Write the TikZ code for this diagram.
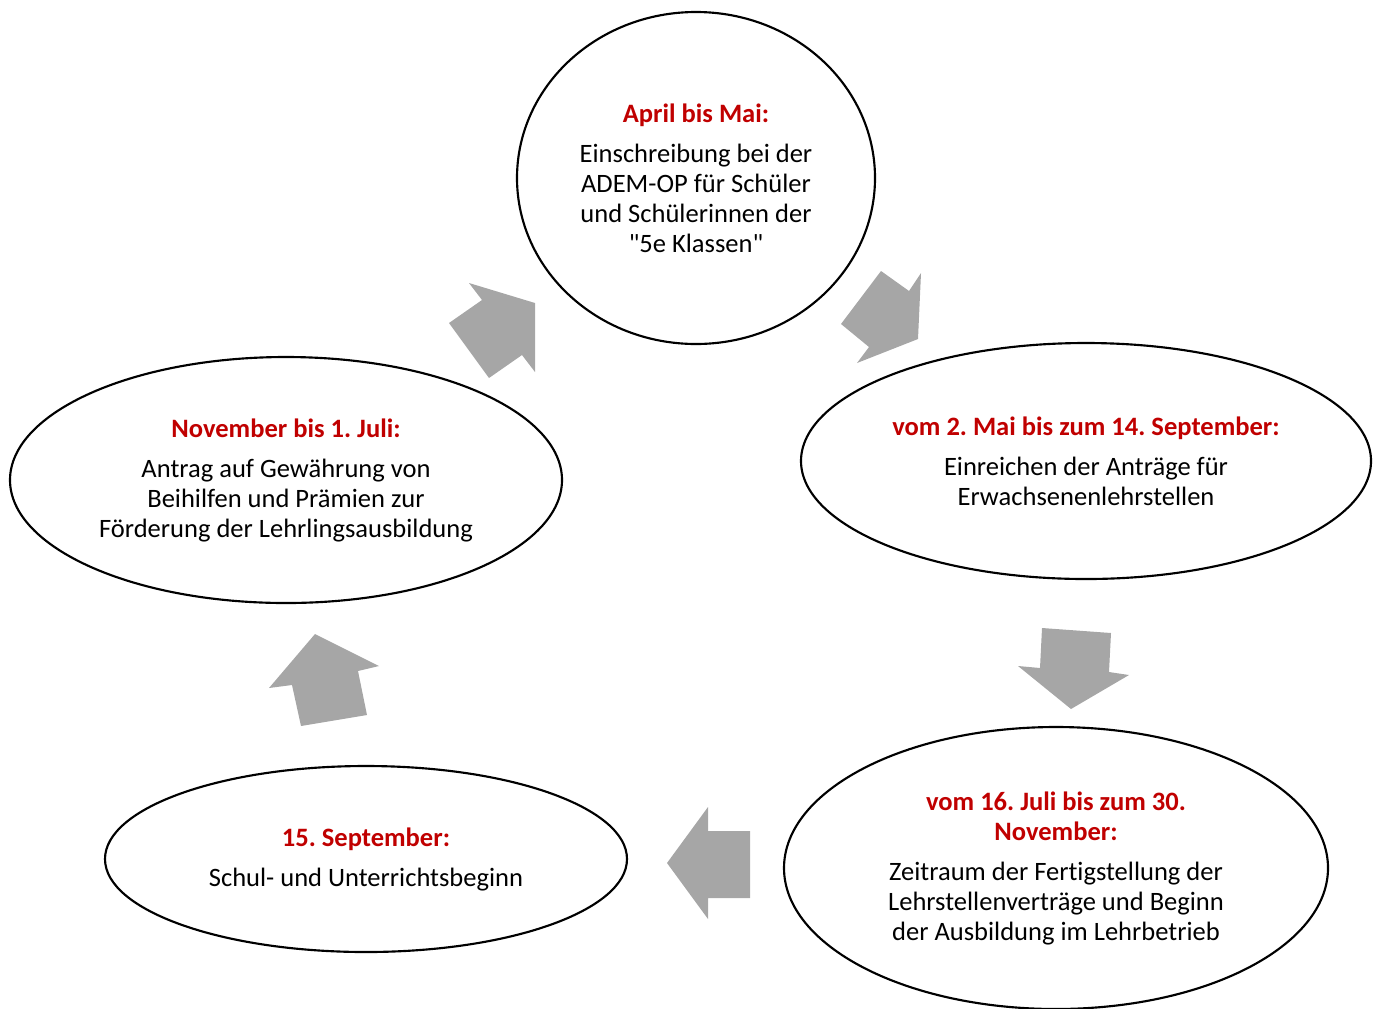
\documentclass[tikz,border=0pt]{standalone}
\usepackage{fontspec}
\setmainfont{Carlito}[Ligatures={NoCommon}]
\usetikzlibrary{shapes.geometric}
\definecolor{titlered}{RGB}{192,0,0}
\definecolor{arrowgray}{RGB}{166,166,166}
\frenchspacing
\tikzset{
  stage/.style={draw=black, line width=1.6pt, ellipse, inner sep=0pt, align=center,
    font=\fontsize{19.9pt}{22.5pt}\selectfont},
  blockarrow/.style={fill=arrowgray, draw=none},
}
\newcommand{\ttl}[1]{\textcolor{titlered}{\bfseries #1}}
\begin{document}
\begin{tikzpicture}[x=0.75pt,y=-0.75pt]
\useasboundingbox (0,0) rectangle (1380,1008);
\node[stage, minimum width=268.5pt, minimum height=249pt] (top) at (696,178)
  {\ttl{April bis Mai:}\\[7.5pt]Einschreibung bei der\\ADEM-OP für Schüler\\und Schülerinnen der\\\textquotedbl 5e Klassen\textquotedbl};
\node[stage, minimum width=427.5pt, minimum height=177pt] (right) at (1086,461)
  {\ttl{vom 2. Mai bis zum 14. September:}\\[7.5pt]Einreichen der Anträge für\\Erwachsenenlehrstellen};
\node[stage, minimum width=408pt, minimum height=211.5pt] (botright) at (1056,868)
  {\ttl{vom 16. Juli bis zum 30.}\\\ttl{November:}\\[7.5pt]Zeitraum der Fertigstellung der\\Lehrstellenverträge und Beginn\\der Ausbildung im Lehrbetrieb};
\node[stage, minimum width=391.5pt, minimum height=139.5pt] (botleft) at (366,859)
  {\ttl{15. September:}\\[7.5pt]Schul- und Unterrichtsbeginn};
\node[stage, minimum width=414pt, minimum height=184.5pt] (left) at (286,480)
  {\ttl{November bis 1. Juli:}\\[7.5pt]Antrag auf Gewährung von\\Beihilfen und Prämien zur\\Förderung der Lehrlingsausbildung};
% block arrows
\fill[blockarrow] (469,283) -- (535,303) -- (535,372) -- (522,355) -- (489,378) -- (449,323) -- (482,300) -- cycle;
\fill[blockarrow] (881,271) -- (909,291) -- (921,273) -- (918,339) -- (857,363) -- (869,347) -- (841,324) -- cycle;
\fill[blockarrow] (1042,628) -- (1111,633) -- (1109,672) -- (1129,675) -- (1071,709) -- (1018,666) -- (1040,668) -- cycle;
\fill[blockarrow] (708,807) -- (708,831) -- (750,831) -- (750,898) -- (708,898) -- (708,919) -- (667,863) -- cycle;
\fill[blockarrow] (315,634) -- (379,666) -- (358,671) -- (367,715) -- (301,726) -- (292,685) -- (269,688) -- cycle;
\end{tikzpicture}
\end{document}
